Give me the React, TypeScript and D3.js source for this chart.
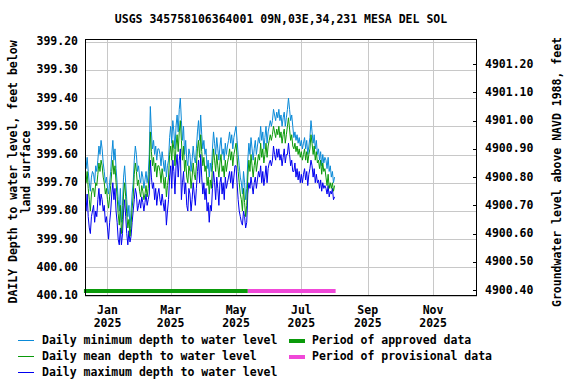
import React from "react";
import * as d3 from "d3";

const TITLE = "USGS 345758106364001 09N,03E,34,231 MESA DEL SOL";
const START = Date.UTC(2024, 11, 11);
const DOMAIN_START = new Date(Date.UTC(2024, 11, 11));
const DOMAIN_END = new Date(Date.UTC(2025, 11, 12));
const DEPTH_DOMAIN = [399.191, 400.101];
const DATUM = 5300.48;

const depthTicks = [399.2, 399.3, 399.4, 399.5, 399.6, 399.7, 399.8, 399.9, 400.0, 400.1];
const elevTicks = [4901.2, 4901.1, 4901.0, 4900.9, 4900.8, 4900.7, 4900.6, 4900.5, 4900.4];
const monthTicks = ["2025-01-01", "2025-03-01", "2025-05-01", "2025-07-01", "2025-09-01", "2025-11-01"];
const monthLabels = ["Jan", "Mar", "May", "Jul", "Sep", "Nov"];

const approvedPeriod = ["2024-12-10", "2025-05-12"];
const provisionalPeriod = ["2025-05-12", "2025-08-02"];

const minDepth = [
  399.62, 399.65, 399.61, 399.66,
  399.70, 399.73, 399.68, 399.66,
  399.67, 399.70, 399.64, 399.66, 399.62,
  399.57, 399.60, 399.55, 399.58, 399.63,
  399.66, 399.70, 399.68,
  399.72, 399.74, 399.70, 399.66,
  399.60, 399.55, 399.62, 399.58, 399.65,
  399.70, 399.76, 399.80, 399.72, 399.84, 399.78,
  399.68, 399.64, 399.70,
  399.76, 399.82, 399.78, 399.86, 399.80, 399.74, 399.70,
  399.62, 399.57, 399.60, 399.66, 399.64,
  399.68, 399.70, 399.66, 399.68, 399.72, 399.69, 399.66, 399.70, 399.67,
  399.60, 399.43, 399.52, 399.58,
  399.55, 399.60, 399.57, 399.62, 399.58,
  399.58, 399.60, 399.64, 399.59, 399.62,
  399.66, 399.62, 399.68, 399.64, 399.62,
  399.54, 399.50, 399.56, 399.48, 399.52, 399.58, 399.50,
  399.46, 399.52, 399.44, 399.40, 399.48, 399.55, 399.50,
  399.60, 399.55, 399.62, 399.64, 399.58, 399.60, 399.66, 399.62, 399.57, 399.61, 399.63, 399.58,
  399.52, 399.48, 399.55, 399.46, 399.53, 399.58, 399.55,
  399.60, 399.58, 399.65, 399.62, 399.68, 399.63, 399.66,
  399.58, 399.52, 399.56, 399.60, 399.54, 399.58, 399.62, 399.57,
  399.54, 399.60, 399.58, 399.62, 399.56, 399.60, 399.57, 399.55,
  399.52, 399.56, 399.53, 399.58, 399.54, 399.52,
  399.50, 399.55, 399.60, 399.64, 399.68,
  399.70, 399.74, 399.66, 399.70, 399.76, 399.72, 399.62,
  399.56, 399.60, 399.54, 399.58, 399.62, 399.58, 399.55, 399.60, 399.57, 399.54,
  399.56, 399.50, 399.55, 399.52, 399.58, 399.54, 399.50, 399.56, 399.52, 399.50, 399.48, 399.50, 399.48,
  399.44, 399.46, 399.48, 399.45,
  399.47, 399.44, 399.48, 399.46, 399.50, 399.47, 399.45, 399.50, 399.47,
  399.44, 399.40, 399.44, 399.48, 399.46, 399.50,
  399.54, 399.52, 399.55, 399.53, 399.56, 399.54, 399.57, 399.55, 399.58,
  399.56, 399.54, 399.58, 399.55, 399.60, 399.57, 399.54,
  399.48, 399.52, 399.56, 399.53, 399.58, 399.55, 399.60,
  399.58, 399.62, 399.59, 399.64, 399.60, 399.63, 399.61,
  399.62, 399.65, 399.61, 399.66, 399.64,
  399.68, 399.66, 399.70, 399.68,
];

const meanDepth = [
  399.67, 399.70, 399.66, 399.72,
  399.76, 399.80, 399.74, 399.72,
  399.72, 399.75, 399.70, 399.71, 399.67,
  399.63, 399.66, 399.62, 399.64, 399.68,
  399.70, 399.74, 399.72,
  399.76, 399.79, 399.75, 399.71,
  399.66, 399.62, 399.67, 399.64, 399.70,
  399.75, 399.81, 399.85, 399.78, 399.88, 399.83,
  399.74, 399.70, 399.75,
  399.81, 399.86, 399.83, 399.89, 399.85, 399.79, 399.75,
  399.67, 399.63, 399.66, 399.71, 399.69,
  399.73, 399.75, 399.71, 399.73, 399.76, 399.74, 399.71, 399.75, 399.72,
  399.66, 399.52, 399.59, 399.64,
  399.61, 399.66, 399.63, 399.68, 399.64,
  399.64, 399.66, 399.70, 399.65, 399.68,
  399.72, 399.68, 399.75, 399.71, 399.68,
  399.60, 399.57, 399.62, 399.55, 399.58, 399.64, 399.57,
  399.53, 399.59, 399.52, 399.48, 399.55, 399.62, 399.57,
  399.66, 399.62, 399.68, 399.70, 399.64, 399.66, 399.72, 399.68, 399.63, 399.67, 399.69, 399.64,
  399.58, 399.55, 399.61, 399.53, 399.59, 399.64, 399.61,
  399.66, 399.64, 399.71, 399.68, 399.74, 399.69, 399.72,
  399.64, 399.58, 399.62, 399.66, 399.60, 399.64, 399.68, 399.63,
  399.60, 399.66, 399.64, 399.68, 399.62, 399.66, 399.63, 399.61,
  399.58, 399.62, 399.59, 399.64, 399.60, 399.58,
  399.56, 399.61, 399.66, 399.70, 399.74,
  399.76, 399.80, 399.72, 399.77, 399.82, 399.78, 399.68,
  399.62, 399.66, 399.60, 399.64, 399.68, 399.64, 399.61, 399.66, 399.63, 399.60,
  399.62, 399.56, 399.61, 399.58, 399.63, 399.60, 399.56, 399.61, 399.57, 399.55, 399.53, 399.55, 399.53,
  399.50, 399.52, 399.54, 399.51,
  399.53, 399.50, 399.54, 399.52, 399.56, 399.53, 399.51, 399.56, 399.53,
  399.50, 399.47, 399.51, 399.55, 399.53, 399.57,
  399.58, 399.56, 399.59, 399.57, 399.60, 399.58, 399.61, 399.59, 399.62,
  399.60, 399.58, 399.62, 399.59, 399.63, 399.60, 399.58,
  399.53, 399.56, 399.60, 399.57, 399.62, 399.59, 399.63,
  399.62, 399.65, 399.62, 399.67, 399.63, 399.66, 399.65,
  399.68, 399.71, 399.67, 399.72, 399.70,
  399.72, 399.70, 399.73, 399.71,
];

const maxDepth = [
  399.76, 399.80, 399.74, 399.82,
  399.86, 399.88, 399.82, 399.80,
  399.78, 399.84, 399.80, 399.82, 399.76,
  399.72, 399.78, 399.74, 399.76, 399.80,
  399.78, 399.84, 399.82,
  399.86, 399.90, 399.84, 399.80,
  399.74, 399.70, 399.76, 399.72, 399.80,
  399.84, 399.90, 399.92, 399.86, 399.92, 399.88,
  399.80, 399.76, 399.82,
  399.88, 399.92, 399.87, 399.91, 399.89, 399.84, 399.80,
  399.76, 399.72, 399.74, 399.80, 399.78,
  399.76, 399.79, 399.75, 399.77, 399.80, 399.77, 399.74, 399.78, 399.76,
  399.74, 399.62, 399.68, 399.72,
  399.70, 399.76, 399.72, 399.78, 399.74,
  399.72, 399.76, 399.78, 399.74, 399.77,
  399.80, 399.76, 399.85, 399.80, 399.76,
  399.68, 399.64, 399.72, 399.62, 399.66, 399.74, 399.64,
  399.60, 399.68, 399.62, 399.58, 399.76, 399.70, 399.66,
  399.74, 399.70, 399.78, 399.80, 399.72, 399.74, 399.80, 399.76, 399.70, 399.74, 399.78, 399.72,
  399.66, 399.62, 399.70, 399.60, 399.68, 399.74, 399.70,
  399.76, 399.72, 399.80, 399.77, 399.84, 399.78, 399.80,
  399.72, 399.66, 399.70, 399.76, 399.68, 399.72, 399.78, 399.70,
  399.68, 399.74, 399.70, 399.76, 399.68, 399.72, 399.70, 399.68,
  399.66, 399.70, 399.66, 399.72, 399.68, 399.64,
  399.64, 399.70, 399.76, 399.80, 399.82,
  399.84, 399.85, 399.80, 399.82, 399.86, 399.84, 399.74,
  399.70, 399.72, 399.68, 399.71, 399.74, 399.70, 399.68, 399.72, 399.69, 399.66,
  399.68, 399.64, 399.70, 399.66, 399.71, 399.68, 399.64, 399.70, 399.65, 399.63, 399.62, 399.64, 399.62,
  399.57, 399.60, 399.62, 399.58,
  399.61, 399.58, 399.62, 399.60, 399.64, 399.61, 399.58, 399.63, 399.60,
  399.60, 399.56, 399.60, 399.64, 399.62, 399.66,
  399.66, 399.63, 399.68, 399.65, 399.69, 399.66, 399.70, 399.67, 399.70,
  399.67, 399.65, 399.69, 399.66, 399.71, 399.67, 399.65,
  399.62, 399.64, 399.68, 399.65, 399.70, 399.67, 399.70,
  399.69, 399.72, 399.69, 399.73, 399.70, 399.72, 399.71,
  399.72, 399.74, 399.71, 399.75, 399.73,
  399.74, 399.72, 399.76, 399.75,
];

const legendLines = [
  { label: "Daily minimum depth to water level", color: "#0a8ad8" },
  { label: "Daily mean depth to water level", color: "#0a9a0a" },
  { label: "Daily maximum depth to water level", color: "#0000f0" },
];
const legendBars = [
  { label: "Period of approved data", color: "#0a9a0a" },
  { label: "Period of provisional data", color: "#f048d8" },
];

const W = 576;
const H = 384;
const M = { left: 85, right: 477, top: 39, bottom: 296 };
const FONT = "'DejaVu Sans Mono', monospace";

function dayDate(i: number) {
  return new Date(START + i * 86400000);
}
function parse(s: string) {
  const [y, m, d] = s.split("-").map(Number);
  return new Date(Date.UTC(y, m - 1, d));
}

export default function App() {
  const x = d3.scaleUtc().domain([DOMAIN_START, DOMAIN_END]).range([M.left, M.right]);
  const y = d3.scaleLinear().domain(DEPTH_DOMAIN).range([M.top, M.bottom]);
  const yElev = d3.scaleLinear().domain([DATUM - DEPTH_DOMAIN[0], DATUM - DEPTH_DOMAIN[1]]).range([M.top, M.bottom]);

  const line = d3
    .line<number>()
    .x((_, i) => x(dayDate(i)))
    .y((v) => y(v));

  const series = [
    { data: minDepth, color: legendLines[0].color },
    { data: maxDepth, color: legendLines[2].color },
    { data: meanDepth, color: legendLines[1].color },
  ];

  const barY = 291;
  const textStyle = { fontFamily: FONT, fontSize: 11.5, fontWeight: "bold" as const, fill: "#000" };
  const midY = 172;

  return (
    <svg width={W} height={H} style={{ position: "absolute", left: 0, top: 0, background: "#fff" }}>
      <rect x={0} y={0} width={W} height={H} fill="#fff" />
      <text x={281} y={19} textAnchor="middle" dominantBaseline="middle" {...textStyle}>
        {TITLE}
      </text>

      {/* grid */}
      {depthTicks.map((t) => (
        <line key={"gy" + t} x1={M.left} x2={M.right} y1={Math.round(y(t)) + 0.5} y2={Math.round(y(t)) + 0.5} stroke="#c8c8c8" strokeWidth={1} />
      ))}
      {monthTicks.map((t) => (
        <line key={"gx" + t} x1={Math.round(x(parse(t))) + 0.5} x2={Math.round(x(parse(t))) + 0.5} y1={M.top} y2={M.bottom} stroke="#c8c8c8" strokeWidth={1} />
      ))}

      {/* data */}
      <defs>
        <clipPath id="clip">
          <rect x={M.left} y={M.top} width={M.right - M.left} height={M.bottom - M.top} />
        </clipPath>
      </defs>
      <g clipPath="url(#clip)">
        {series.map((s, k) => (
          <path key={k} d={line(s.data) || ""} fill="none" stroke={s.color} strokeWidth={1} />
        ))}
      </g>

      {/* period bars */}
      <rect x={x(parse(approvedPeriod[0]))} y={barY - 2} width={x(parse(approvedPeriod[1])) - x(parse(approvedPeriod[0]))} height={4} fill={legendBars[0].color} />
      <rect x={x(parse(provisionalPeriod[0]))} y={barY - 2} width={x(parse(provisionalPeriod[1])) - x(parse(provisionalPeriod[0]))} height={4} fill={legendBars[1].color} />

      {/* frame */}
      <rect x={M.left + 0.5} y={M.top + 0.5} width={M.right - M.left - 1} height={M.bottom - M.top - 1} fill="none" stroke="#000" strokeWidth={1} />

      {/* left ticks */}
      {depthTicks.map((t) => (
        <text key={"ly" + t} x={78} y={y(t)} textAnchor="end" dominantBaseline="middle" {...textStyle}>
          {t.toFixed(2)}
        </text>
      ))}
      {/* right ticks */}
      {elevTicks.map((t) => (
        <g key={"ry" + t}>
          <line x1={M.right - 4} x2={M.right} y1={Math.round(yElev(t)) + 0.5} y2={Math.round(yElev(t)) + 0.5} stroke="#000" />
          <text x={485} y={yElev(t)} textAnchor="start" dominantBaseline="middle" {...textStyle}>
            {t.toFixed(2)}
          </text>
        </g>
      ))}
      {/* x ticks */}
      {monthTicks.map((t, i) => (
        <g key={"xt" + t}>
          <text x={x(parse(t))} y={310} textAnchor="middle" dominantBaseline="middle" {...textStyle}>
            {monthLabels[i]}
          </text>
          <text x={x(parse(t))} y={323} textAnchor="middle" dominantBaseline="middle" {...textStyle}>
            2025
          </text>
        </g>
      ))}

      {/* axis titles */}
      <text transform={`translate(13,${midY}) rotate(-90)`} textAnchor="middle" dominantBaseline="middle" {...textStyle}>
        DAILY Depth to water level, feet below
      </text>
      <text transform={`translate(26,${midY}) rotate(-90)`} textAnchor="middle" dominantBaseline="middle" {...textStyle}>
        land surface
      </text>
      <text transform={`translate(557,${midY}) rotate(-90)`} textAnchor="middle" dominantBaseline="middle" {...textStyle}>
        Groundwater level above NAVD 1988, feet
      </text>

      {/* legend */}
      {legendLines.map((l, i) => (
        <g key={"ll" + i}>
          <line x1={18} x2={34} y1={340.5 + i * 16} y2={340.5 + i * 16} stroke={l.color} strokeWidth={1} />
          <text x={42} y={340.5 + i * 16} dominantBaseline="middle" {...textStyle}>
            {l.label}
          </text>
        </g>
      ))}
      {legendBars.map((l, i) => (
        <g key={"lb" + i}>
          <rect x={289} y={339 + i * 16} width={16} height={4} fill={l.color} />
          <text x={312} y={340.5 + i * 16} dominantBaseline="middle" {...textStyle}>
            {l.label}
          </text>
        </g>
      ))}
    </svg>
  );
}
